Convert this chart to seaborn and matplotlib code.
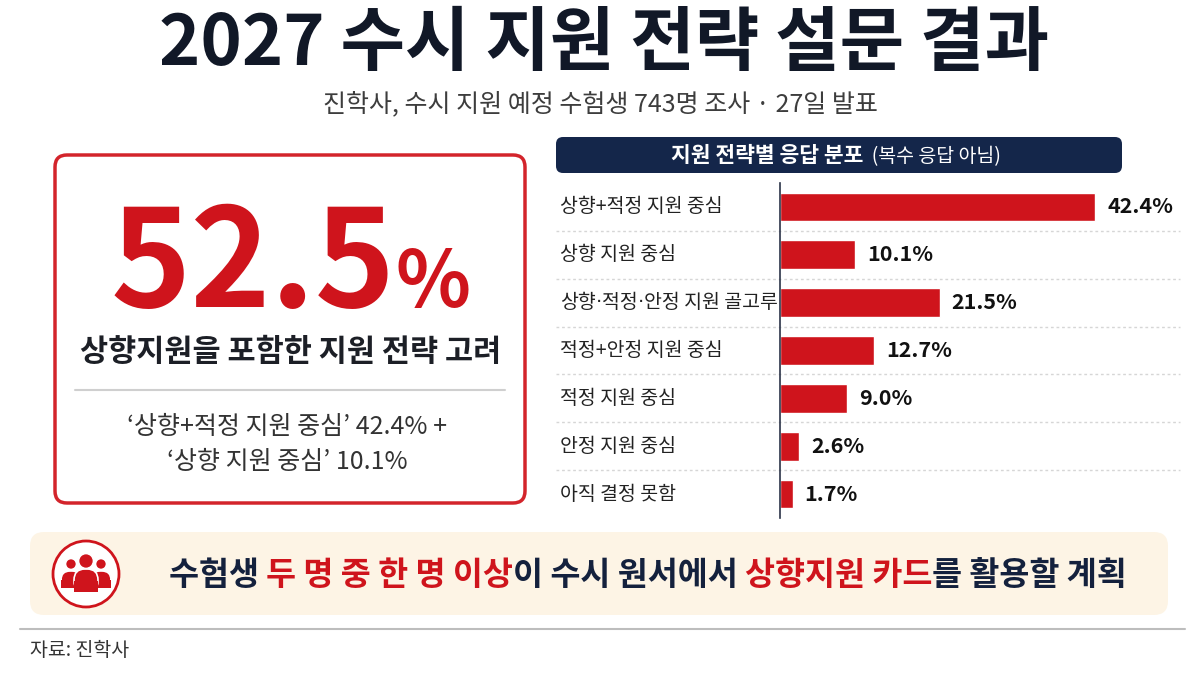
import matplotlib
matplotlib.use('Agg')
import pandas as pd
import seaborn as sns
import matplotlib.pyplot as plt
from matplotlib.patches import FancyBboxPatch, Circle, Rectangle
from matplotlib.transforms import blended_transform_factory

# data
categories = ['상향+적정 지원 중심', '상향 지원 중심', '상향·적정·안정 지원 골고루',
              '적정+안정 지원 중심', '적정 지원 중심', '안정 지원 중심', '아직 결정 못함']
shares = [42.4, 10.1, 21.5, 12.7, 9.0, 2.6, 1.7]
headline_value = '52.5'
headline_parts = ["‘상향+적정 지원 중심’ 42.4% +", "‘상향 지원 중심’ 10.1%"]

title = '2027 수시 지원 전략 설문 결과'
subtitle = '진학사, 수시 지원 예정 수험생 743명 조사 · 27일 발표'
source = '자료: 진학사'

RED = '#cf141c'
NAVY = '#14213d'
DARK = '#1c1f26'

sns.set_theme(style='white')
plt.rcParams['font.family'] = ['Noto Sans CJK KR', 'DejaVu Sans']

fig = plt.figure(figsize=(12, 6.75), dpi=100)
fig.patch.set_facecolor('white')

# background axes in pixel coordinates (y from top)
bg = fig.add_axes([0, 0, 1, 1])
bg.set_xlim(0, 1200)
bg.set_ylim(675, 0)
bg.axis('off')


def chain_text(ax, x, y, pieces, center=True, transform=None, va='baseline'):
    """draw pieces of text one after another on the same baseline"""
    transform = transform or ax.transData
    first_s, first_kw = pieces[0]
    first = ax.text(x, y, first_s, ha='left', va=va, transform=transform, **first_kw)
    prev = first
    for s, kw in pieces[1:]:
        prev = ax.annotate(s, xy=(1, y), xycoords=(prev, transform),
                           ha='left', va=va, **kw)
    if center:
        fig.canvas.draw()
        r = fig.canvas.get_renderer()
        x0 = first.get_window_extent(r).x0
        x1 = prev.get_window_extent(r).x1
        first.set_x(x - (x1 - x0) / 2)
    return first, prev


# title and subtitle
bg.text(604, 45, title, ha='center', va='center', fontsize=50.5,
        fontweight='heavy', color='#111827')
bg.text(600, 104, subtitle, ha='center', va='center', fontsize=18, color='#3d3d3d')

# left highlight box
bg.add_patch(FancyBboxPatch((55, 155), 470, 348, boxstyle='round,pad=0,rounding_size=12',
                            facecolor='white', edgecolor='#d3242b', lw=2.5))
chain_text(bg, 291, 307, [(headline_value, dict(fontsize=98, fontweight='heavy', color=RED)),
                          ('%', dict(fontsize=56, fontweight='heavy', color=RED))])
bg.text(291, 352, '상향지원을 포함한 지원 전략 고려', ha='center', va='center',
        fontsize=22, fontweight='heavy', color=DARK)
bg.plot([75, 505], [390, 390], color='#cfcfcf', lw=1.5)
bg.text(287, 427, headline_parts[0], ha='center', va='center', fontsize=18, color='#333333')
bg.text(287, 462, headline_parts[1], ha='center', va='center', fontsize=18, color='#333333')

# header pill of the bar chart
bg.add_patch(FancyBboxPatch((556, 137), 566, 36, boxstyle='round,pad=0,rounding_size=7',
                            facecolor='#14264a', edgecolor='none'))
chain_text(bg, 836, 162, [('지원 전략별 응답 분포', dict(fontsize=15.5, fontweight='bold', color='white')),
                          ('  (복수 응답 아님)', dict(fontsize=14, color='white'))])

# bar chart
ax = fig.add_axes([780 / 1200, 157 / 675, 400 / 1200, 335 / 675])
ax.set_facecolor('none')
df = pd.DataFrame({'category': categories, 'share': shares})
sns.barplot(data=df, x='share', y='category', orient='h', color=RED,
            saturation=1, width=0.6, ax=ax)
ax.set_xlim(0, 53.8)
ax.set_ylim(6.5, -0.5)
ax.set_xlabel('')
ax.set_ylabel('')
ax.set_xticks([])
ax.set_yticks([])
for side in ['top', 'right', 'bottom']:
    ax.spines[side].set_visible(False)
ax.spines['left'].set_color('#2b3448')
ax.spines['left'].set_linewidth(1.2)

trans = blended_transform_factory(bg.transData, ax.transData)
label_kw = dict(fontsize=14, color='#222222')
dot_kw = dict(fontsize=14, color='#222222', family=['DejaVu Sans'])
for i, (cat, val) in enumerate(zip(categories, shares)):
    # middle dots drawn in a latin font so they stay narrow
    pieces = []
    for k, part in enumerate(cat.split('·')):
        if k:
            pieces.append(('·', dot_kw))
        pieces.append((part, label_kw))
    chain_text(ax, 560, i, pieces, center=False, transform=trans, va='center')
    ax.text(val + 1.6, i, f'{val:.1f}%', ha='left', va='center', fontsize=15.5,
            fontweight='bold', color='#111111')
for i in range(len(categories) - 1):
    ax.plot([556, 1180], [i + 0.5, i + 0.5], transform=trans, color='#d6d6d6',
            lw=1, ls=(0, (2, 2)), clip_on=False, zorder=0)

# bottom banner
bg.add_patch(FancyBboxPatch((30, 532), 1138, 83, boxstyle='round,pad=0,rounding_size=14',
                            facecolor='#fdf4e5', edgecolor='none'))
bg.add_patch(Circle((86, 574), 33, facecolor='white', edgecolor=RED, lw=2))
# people icon: side persons first, centre person on top
for hx, hy, hr, bx, by, bw, bh in [(71, 564, 5.5, 61, 571, 20, 17),
                                   (101, 564, 5.5, 91, 571, 20, 17),
                                   (86, 561, 7.5, 74, 569, 24, 23)]:
    bg.add_patch(FancyBboxPatch((bx, by), bw, bh, boxstyle=f'round,pad=0,rounding_size={bw / 2 - 1}',
                                facecolor=RED, edgecolor='white', lw=1.2))
    bg.add_patch(Rectangle((bx, by + bh / 2), bw, bh / 2, facecolor=RED, edgecolor='none'))
    bg.add_patch(Circle((hx, hy), hr, facecolor=RED, edgecolor='white', lw=1.2))
chain_text(bg, 648, 585, [('수험생 ', dict(fontsize=23.5, fontweight='bold', color=NAVY)),
                          ('두 명 중 한 명 이상', dict(fontsize=23.5, fontweight='bold', color=RED)),
                          ('이 수시 원서에서 ', dict(fontsize=23.5, fontweight='bold', color=NAVY)),
                          ('상향지원 카드', dict(fontsize=23.5, fontweight='bold', color=RED)),
                          ('를 활용할 계획', dict(fontsize=23.5, fontweight='bold', color=NAVY))])

# source line
bg.plot([20, 1185], [629, 629], color='#bdbdbd', lw=1.5)
bg.text(30, 650, source, ha='left', va='center', fontsize=14, color='#333333')

fig.savefig('out.png', dpi=100, facecolor='white')
